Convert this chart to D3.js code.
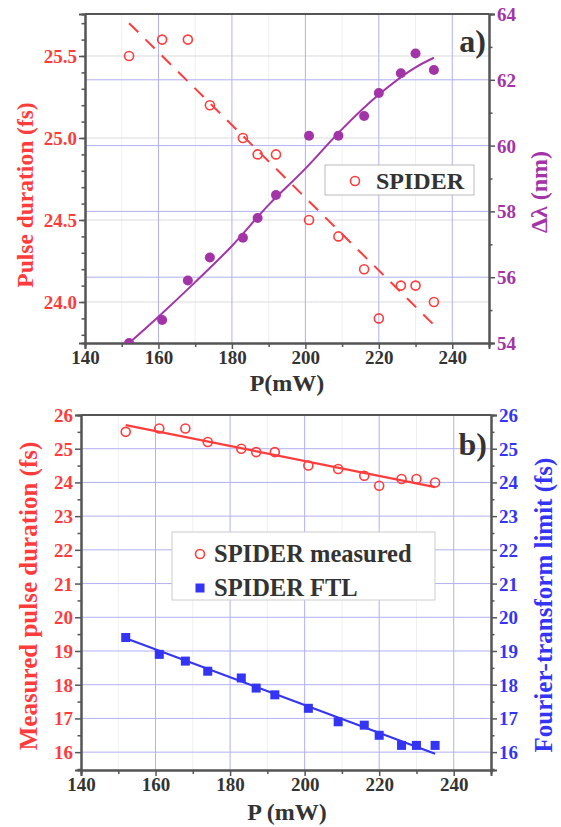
<!DOCTYPE html>
<html><head><meta charset="utf-8">
<script src="https://cdn.jsdelivr.net/npm/d3@7"></script>
<style>body{margin:0;background:#fff}svg{display:block}</style>
</head><body><svg id="c" width="561" height="827"></svg>
<script>
const power = [152,161,168,174,183,187,192,201,209,216,220,226,230,235];
const spider = [25.5,25.6,25.6,25.2,25.0,24.9,24.9,24.5,24.4,24.2,23.9,24.1,24.1,24.0];
const dlambda = [54.0,54.7,55.9,56.6,57.2,57.8,58.5,60.3,60.3,60.9,61.6,62.2,62.8,62.3];
const ftl = [19.4,18.9,18.7,18.4,18.2,17.9,17.7,17.3,16.9,16.8,16.5,16.2,16.2,16.2];
const fitSpiderX = [152,235], fitSpiderY = [25.70,23.86];
const fitLambdaX = [152,160,170,180,190,200,210,220,230,235];
const fitLambdaY = [54.0,54.8,55.85,56.95,58.2,59.3,60.5,61.55,62.38,62.67];
const fitFtlX = [152,235], fitFtlY = [19.38,15.95];
const xTicks = [140,160,180,200,220,240];
const aLeftTicks = [24.0,24.5,25.0,25.5];
const aRightTicks = [54,56,58,60,62,64];
const bTicks = [16,17,18,19,20,21,22,23,24,25,26];

const FONT = "Liberation Serif, DejaVu Serif, Times New Roman, serif";
const RED="#ff3c3c", PURPLE="#a234a8", BLUE="#3434f4", DARK="#333", AX="#555";
const svg = d3.select("#c");

function txt(g, s, size, fill){
  return g.append("text").text(s).attr("fill",fill)
    .attr("font-family",FONT).attr("font-weight","bold").attr("font-size",size);
}

function panel(o){
  const g = svg.append("g");
  const x = d3.scaleLinear().domain([140,250]).range([o.l,o.r]);
  const yl = d3.scaleLinear().domain(o.ylDom).range([o.b,o.t]);
  const yr = d3.scaleLinear().domain(o.yrDom).range([o.b,o.t]);
  g.append("g").selectAll("line").data(d3.range(150,250,20)).join("line")
    .attr("x1",d=>x(d)).attr("x2",d=>x(d)).attr("y1",o.t).attr("y2",o.b)
    .attr("stroke","#e8eee8").attr("stroke-width",0.8);
  g.append("g").selectAll("line").data(o.gridLeft||[]).join("line")
    .attr("x1",o.l).attr("x2",o.r).attr("y1",d=>yl(d)).attr("y2",d=>yl(d))
    .attr("stroke",o.gridLeftColor).attr("stroke-width",1);
  g.append("g").selectAll("line").data(o.gridRight||[]).join("line")
    .attr("x1",o.l).attr("x2",o.r).attr("y1",d=>yr(d)).attr("y2",d=>yr(d))
    .attr("stroke","#b0b0f4").attr("stroke-width",1);
  g.append("g").selectAll("line").data([160,180,200,220,240]).join("line")
    .attr("x1",d=>x(d)).attr("x2",d=>x(d)).attr("y1",o.t).attr("y2",o.b)
    .attr("stroke","#b0b0f4").attr("stroke-width",1);
  g.append("line").attr("x1",o.l).attr("x2",o.r).attr("y1",o.t).attr("y2",o.t).attr("stroke",AX).attr("stroke-width",2);
  const ax = d3.axisBottom(x).tickValues(xTicks).tickSize(6).tickFormat(d3.format("d"));
  const axm = d3.axisBottom(x).tickValues(d3.range(150,250,20)).tickSize(4).tickFormat("");
  const gx = g.append("g").attr("transform",`translate(0,${o.b})`).call(ax);
  g.append("g").attr("transform",`translate(0,${o.b})`).call(axm);
  const gl = g.append("g").attr("transform",`translate(${o.l},0)`).call(d3.axisLeft(yl).tickValues(o.ylTicks).tickSize(6).tickFormat(d3.format(o.ylFmt)));
  g.append("g").attr("transform",`translate(${o.l},0)`).call(d3.axisLeft(yl).tickValues(o.ylMinor).tickSize(3.5).tickFormat(""));
  const gr = g.append("g").attr("transform",`translate(${o.r},0)`).call(d3.axisRight(yr).tickValues(o.yrTicks).tickSize(6).tickFormat(d3.format("d")));
  g.append("g").attr("transform",`translate(${o.r},0)`).call(d3.axisRight(yr).tickValues(o.yrMinor).tickSize(3.5).tickFormat(""));
  g.selectAll(".domain").attr("stroke",AX).attr("stroke-width",2);
  g.selectAll(".tick line").attr("stroke",AX).attr("stroke-width",1.5);
  gx.selectAll("text").attr("fill",DARK).attr("y",8).attr("dy","0.71em");
  gl.selectAll("text").attr("fill",RED).attr("x",-8).attr("dy","0.34em");
  gr.selectAll("text").attr("fill",o.rColor).attr("x",8).attr("dy","0.34em");
  g.selectAll("g").attr("font-family",FONT).attr("font-size",19).attr("font-weight","bold");
  return {g,x,yl,yr};
}

// ---- Panel a ----
const A = panel({l:85,r:489,t:14,b:343,ylDom:[23.75,25.756],yrDom:[54,64],
  ylTicks:aLeftTicks, ylMinor:d3.range(23.8,25.76,0.1).map(v=>+v.toFixed(2)), ylFmt:".1f",
  yrTicks:aRightTicks, yrMinor:[55,57,59,61,63], rColor:PURPLE,
  gridLeft:aLeftTicks, gridLeftColor:"#dadada", gridRight:[56,58,60,62]});
A.g.append("path").datum(fitSpiderX.map((v,i)=>[v,fitSpiderY[i]]))
  .attr("d",d3.line().x(d=>A.x(d[0])).y(d=>A.yl(d[1])))
  .attr("fill","none").attr("stroke",RED).attr("stroke-width",2).attr("stroke-dasharray","13,10");
A.g.append("clipPath").attr("id","ca").append("rect").attr("x",85).attr("y",14).attr("width",404).attr("height",329);
A.g.append("path").datum(fitLambdaX.map((v,i)=>[v,fitLambdaY[i]]))
  .attr("d",d3.line().curve(d3.curveMonotoneX).x(d=>A.x(d[0])).y(d=>A.yr(d[1])))
  .attr("fill","none").attr("stroke",PURPLE).attr("stroke-width",2);
A.g.append("g").attr("clip-path","url(#ca)").selectAll("circle").data(power).join("circle")
  .attr("cx",d=>A.x(d)).attr("cy",(d,i)=>A.yr(dlambda[i])).attr("r",5).attr("fill",PURPLE);
A.g.append("g").selectAll("circle").data(power).join("circle")
  .attr("cx",d=>A.x(d)).attr("cy",(d,i)=>A.yl(spider[i])).attr("r",4.5)
  .attr("fill","none").attr("stroke",RED).attr("stroke-width",1.6);
A.g.append("rect").attr("x",325).attr("y",165).attr("width",149).attr("height",30).attr("fill","#fff").attr("stroke","#bbb");
A.g.append("circle").attr("cx",355).attr("cy",181).attr("r",4.5).attr("fill","none").attr("stroke",RED).attr("stroke-width",1.6);
txt(A.g,"SPIDER",24,DARK).attr("x",376).attr("y",189);
txt(A.g,"a)",32,DARK).attr("x",486).attr("y",52).attr("text-anchor","end");
txt(A.g,"Pulse duration (fs)",23.5,RED).attr("transform","translate(33,195) rotate(-90)").attr("text-anchor","middle");
txt(A.g,"Δλ (nm)",24,PURPLE).attr("transform","translate(547,192) rotate(-90)").attr("text-anchor","middle");
txt(A.g,"P(mW)",24,DARK).attr("x",287).attr("y",391).attr("text-anchor","middle");

// ---- Panel b ----
const B = panel({l:81,r:491,t:415,b:770,ylDom:[15.47,26],yrDom:[15.47,26],
  ylTicks:bTicks, ylMinor:d3.range(15.5,26,1), ylFmt:"d",
  yrTicks:bTicks, yrMinor:d3.range(15.5,26,1), rColor:BLUE,
  gridLeft:bTicks.slice(0,-1), gridLeftColor:"#b0b0f4", gridRight:[]});
B.g.append("path").datum(fitSpiderX.map((v,i)=>[v,fitSpiderY[i]]))
  .attr("d",d3.line().x(d=>B.x(d[0])).y(d=>B.yl(d[1])))
  .attr("fill","none").attr("stroke",RED).attr("stroke-width",2.2);
B.g.append("path").datum(fitFtlX.map((v,i)=>[v,fitFtlY[i]]))
  .attr("d",d3.line().x(d=>B.x(d[0])).y(d=>B.yr(d[1])))
  .attr("fill","none").attr("stroke",BLUE).attr("stroke-width",2.2);
B.g.append("g").selectAll("circle").data(power).join("circle")
  .attr("cx",d=>B.x(d)).attr("cy",(d,i)=>B.yl(spider[i])).attr("r",4.5)
  .attr("fill","none").attr("stroke",RED).attr("stroke-width",1.6);
B.g.append("g").selectAll("rect").data(power).join("rect")
  .attr("x",d=>B.x(d)-4.5).attr("y",(d,i)=>B.yr(ftl[i])-4.5).attr("width",9).attr("height",9).attr("fill",BLUE);
B.g.append("rect").attr("x",172).attr("y",532).attr("width",263).attr("height",68).attr("fill","#fff").attr("stroke","#ccc");
B.g.append("circle").attr("cx",200).attr("cy",554).attr("r",4.5).attr("fill","none").attr("stroke",RED).attr("stroke-width",1.6);
B.g.append("rect").attr("x",195.5).attr("y",583.5).attr("width",9).attr("height",9).attr("fill",BLUE);
txt(B.g,"SPIDER measured",24.5,DARK).attr("x",214).attr("y",562);
txt(B.g,"SPIDER FTL",24.5,DARK).attr("x",214).attr("y",596);
txt(B.g,"b)",32,DARK).attr("x",487).attr("y",455).attr("text-anchor","end");
txt(B.g,"Measured pulse duration (fs)",25,RED).attr("transform","translate(37,596) rotate(-90)").attr("text-anchor","middle");
txt(B.g,"Fourier-transform limit (fs)",25,BLUE).attr("transform","translate(552,605) rotate(-90)").attr("text-anchor","middle");
txt(B.g,"P (mW)",24,DARK).attr("x",287).attr("y",820).attr("text-anchor","middle");
</script></body></html>
